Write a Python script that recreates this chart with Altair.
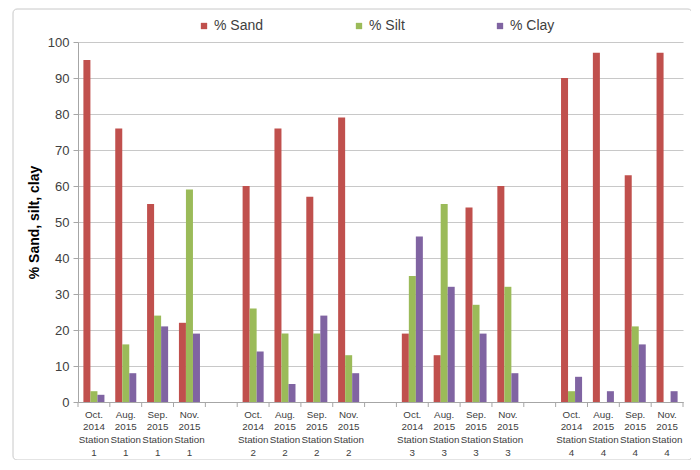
import altair as alt
import pandas as pd

months = ["Oct.", "Aug.", "Sep.", "Nov."]
years = ["2014", "2015", "2015", "2015"]
stations = ["1", "2", "3", "4"]
series = ["% Sand", "% Silt", "% Clay"]
colors = ["#C0504D", "#9BBB59", "#8064A2"]

sand = [95, 76, 55, 22, 60, 76, 57, 79, 19, 13, 54, 60, 90, 97, 63, 97]
silt = [3, 16, 24, 59, 26, 19, 19, 13, 35, 55, 27, 32, 3, 0, 21, 0]
clay = [2, 8, 21, 19, 14, 5, 24, 8, 46, 32, 19, 8, 7, 3, 16, 3]

# category order with empty spacer slots between stations
cats = []
labels = []
for si, st in enumerate(stations):
    for mi in range(4):
        labels.append(f"{months[mi]}|{years[mi]}|Station|{st}")
    cats.extend(labels[-4:])
    if si < len(stations) - 1:
        cats.append(f"gap{si}")

rows = []
for i, lab in enumerate(labels):
    for s, vals in zip(series, [sand, silt, clay]):
        rows.append({"cat": lab, "series": s, "value": vals[i]})
df = pd.DataFrame(rows)

W, H = 605, 360
GRAY = "#a6a6a6"

xscale = alt.Scale(domain=cats, paddingInner=0, paddingOuter=0)
xaxis = alt.Axis(
    title=None,
    labelAngle=0,
    labelExpr="indexof(datum.value,'gap')==0 ? '' : split(datum.value,'|')",
    labelFont="Liberation Sans",
    labelFontSize=9.8,
    labelLineHeight=12.8,
    labelColor="#404040",
    labelPadding=7,
    labelOverlap=False,
    labelBound=False,
    ticks=False,
    domainColor=GRAY,
    grid=False,
)

bars = alt.Chart(df).mark_bar().encode(
    x=alt.X("cat:N", sort=cats, scale=xscale, axis=xaxis),
    xOffset=alt.XOffset(
        "series:N",
        sort=series,
        scale=alt.Scale(domain=series, paddingInner=0, paddingOuter=0.77),
    ),
    y=alt.Y(
        "value:Q",
        scale=alt.Scale(domain=[0, 100], nice=False),
        axis=alt.Axis(
            title="% Sand, silt, clay",
            values=list(range(0, 101, 10)),
            labelFont="Liberation Sans",
            labelFontSize=13,
            labelColor="#404040",
            labelPadding=4,
            tickSize=5,
            tickColor=GRAY,
            domainColor=GRAY,
            gridColor="#c8c8c8",
            titleFont="Liberation Sans",
            titleFontSize=14,
            titleFontWeight="bold",
            titleColor="#000000",
            titlePadding=6,
        ),
    ),
    color=alt.Color(
        "series:N",
        sort=series,
        scale=alt.Scale(domain=series, range=colors),
        legend=alt.Legend(
            title=None,
            orient="none",
            direction="horizontal",
            legendX=119,
            legendY=-23,
            symbolType="square",
            symbolSize=40,
            labelFont="Liberation Sans",
            labelFontSize=14,
            labelColor="#404040",
            labelOffset=3,
            columnPadding=88,
        ),
    ),
)

# category-boundary tick marks on the x axis
ticks = alt.Chart(pd.DataFrame({"cat": cats})).mark_rule(color=GRAY).encode(
    x=alt.X("cat:N", sort=cats, scale=xscale, axis=xaxis, bandPosition=0),
    y=alt.value(H),
    y2=alt.value(H + 5),
)
end_tick = alt.Chart(pd.DataFrame({"k": [0]})).mark_rule(color=GRAY).encode(
    x=alt.value(W), y=alt.value(H), y2=alt.value(H + 5)
)

border = alt.Chart(pd.DataFrame({"k": [0]})).mark_rect(
    fillOpacity=0, stroke="#c8c8c8", strokeWidth=1, cornerRadius=4
).encode(
    x=alt.value(-65), x2=alt.value(614), y=alt.value(-33), y2=alt.value(418)
)

chart = alt.layer(border, ticks, end_tick, bars).properties(
    width=W,
    height=H,
    padding={"left": 70, "top": 34, "right": 8, "bottom": 58},
    autosize=alt.AutoSizeParams(type="none"),
).configure_view(stroke=None)

chart.save("out.html", embed_options={"renderer": "svg", "actions": False})
